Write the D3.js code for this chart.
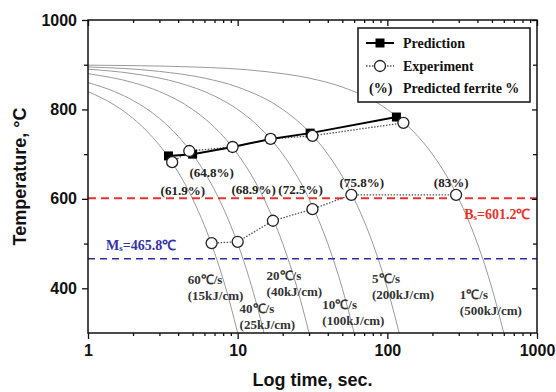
<!DOCTYPE html>
<html><head><meta charset="utf-8">
<script src="https://cdn.jsdelivr.net/npm/d3@7"></script>
<style>
html,body{margin:0;padding:0;background:#fff;}
svg{display:block;}
.serif{font-family:"Liberation Serif","Times New Roman",serif;font-weight:bold;}
.sans{font-family:"Liberation Sans",Arial,sans-serif;font-weight:bold;}
</style></head>
<body><svg id="chart" width="556" height="392"></svg>
<script>
// ---------- data ----------
const xTickValues = [1, 10, 100, 1000];
const yTickValues = [400, 600, 800, 1000];
const yMinorValues = [500, 700, 900];

// cooling curves [time s, temperature °C]
const curve60 = [[1,840],[1.5,810],[2,780],[2.5,750],[3,720],[4,660],[5,600],[6,540],[7,480],[8,420],[9,360],[10,300]];
const curve40 = [[1,860],[1.5,840],[2,820],[3,780],[4,740],[5,700],[6,660],[8,580],[10,500],[12,420],[13.5,360],[15,300]];
const curve20 = [[1,880],[2,860],[3,840],[5,800],[7,760],[10,700],[15,600],[20,500],[25,400],[30,300]];
const curve10 = [[1,890],[2,880],[4,860],[7,830],[10,800],[15,750],[20,700],[30,600],[40,500],[50,400],[60,300]];
const curve5  = [[1,895],[3,885],[6,870],[10,850],[20,800],[30,750],[40,700],[60,600],[80,500],[100,400],[120,300]];
const curve1  = [[1,899],[5,895],[15,885],[30,870],[50,850],[100,800],[150,750],[200,700],[300,600],[400,500],[500,400],[600,300]];

const predTime = [3.45, 5.0, 9.25, 16.6, 30.5, 115];
const predTemp = [696, 700, 716, 734, 747, 783];

const expTime = [3.65, 4.75, 9.25, 16.6, 31.6, 128];
const expTemp = [682, 707, 716, 734, 741, 770];

const lowTime = [6.7, 10, 17.2, 31.6, 57.5, 288];
const lowTemp = [501, 504, 551, 577, 609, 609];

const ferriteLabels = ["(61.9%)", "(64.8%)", "(68.9%)", "(72.5%)", "(75.8%)", "(83%)"];
const ferriteTime = [4.3, 6.7, 12.8, 26.3, 67.5, 267];
const ferriteTemp = [618, 658, 620, 620, 636, 636];

const rateLabels = ["60\u2103/s", "40\u2103/s", "20\u2103/s", "10\u2103/s", "5\u2103/s", "1\u2103/s"];
const energyLabels = ["(15kJ/cm)", "(25kJ/cm)", "(40kJ/cm)", "(100kJ/cm)", "(200kJ/cm)", "(500kJ/cm)"];
const rateTime = [4.64, 10.3, 15.6, 36.8, 79, 305];
const rateTemp = [419, 354, 428, 363, 421, 387];

const bsValue = 601.2, msValue = 465.8;
const legendLabels = ["Prediction", "Experiment", "Predicted ferrite %"];

// ---------- chart ----------
const svg = d3.select("#chart");
const L = 88, R = 537, T = 20, B = 333;
const x = d3.scaleLog().domain([1, 1000]).range([L, R]);
const y = d3.scaleLinear().domain([300, 1000]).range([B, T]);

svg.append("defs").append("clipPath").attr("id","clip")
  .append("rect").attr("x",L).attr("y",T).attr("width",R-L).attr("height",B-T);

const plot = svg.append("g").attr("clip-path","url(#clip)");

const line = d3.line().x(d => x(d[0])).y(d => y(d[1])).curve(d3.curveMonotoneX);
[curve60, curve40, curve20, curve10, curve5, curve1].forEach(c => {
  plot.append("path").attr("d", line(c)).attr("fill","none")
    .attr("stroke","#9a9a9a").attr("stroke-width",1);
});

// Bs / Ms lines
plot.append("line").attr("x1",L).attr("x2",R).attr("y1",y(bsValue)).attr("y2",y(bsValue))
  .attr("stroke","#e8322e").attr("stroke-width",2).attr("stroke-dasharray","8,5");
plot.append("line").attr("x1",L).attr("x2",R).attr("y1",y(msValue)).attr("y2",y(msValue))
  .attr("stroke","#2e2e9c").attr("stroke-width",1.5).attr("stroke-dasharray","7,5");

const lin = d3.line().x(d => x(d[0])).y(d => y(d[1]));
const pred = predTime.map((t,i) => [t, predTemp[i]]);
const exp = expTime.map((t,i) => [t, expTemp[i]]);
const low = lowTime.map((t,i) => [t, lowTemp[i]]);

plot.append("path").attr("d", lin(exp)).attr("fill","none").attr("stroke","#555")
  .attr("stroke-width",1.3).attr("stroke-dasharray","1.5,1.5");
plot.append("path").attr("d", lin(low)).attr("fill","none").attr("stroke","#555")
  .attr("stroke-width",1.3).attr("stroke-dasharray","1.5,1.5");
plot.append("path").attr("d", lin(pred)).attr("fill","none").attr("stroke","#000")
  .attr("stroke-width",2);

svg.append("g").selectAll("rect").data(pred).join("rect")
  .attr("x", d => x(d[0]) - 4.5).attr("y", d => y(d[1]) - 4.5)
  .attr("width",9).attr("height",9).attr("fill","#000");
svg.append("g").selectAll("circle").data(exp.concat(low)).join("circle")
  .attr("cx", d => x(d[0])).attr("cy", d => y(d[1])).attr("r",5.5)
  .attr("fill","#fff").attr("stroke","#222").attr("stroke-width",1.3);

// ferrite % labels
svg.append("g").selectAll("text").data(ferriteLabels).join("text")
  .attr("class","serif").attr("font-size",13).attr("fill","#222")
  .attr("text-anchor","middle").attr("dominant-baseline","central")
  .attr("x", (d,i) => x(ferriteTime[i])).attr("y", (d,i) => y(ferriteTemp[i]))
  .text(d => d);

// rate labels
const rg = svg.append("g").attr("class","serif").attr("font-size",13).attr("fill","#333");
rateLabels.forEach((lab,i) => {
  rg.append("text").attr("x", x(rateTime[i])).attr("y", y(rateTemp[i]))
    .attr("dominant-baseline","central").text(lab);
  rg.append("text").attr("x", x(rateTime[i])).attr("y", y(rateTemp[i]) + 16)
    .attr("dominant-baseline","central").text(energyLabels[i]);
});

// Bs / Ms labels
const bsT = svg.append("text").attr("class","serif").attr("font-size",14).attr("fill","#e8322e")
  .attr("x", x(326)).attr("y", y(566)).attr("dominant-baseline","central");
bsT.append("tspan").text("B");
bsT.append("tspan").attr("font-size",9).attr("dy",3).text("s");
bsT.append("tspan").attr("dy",-3).text("=" + bsValue + "\u2103");

const msT = svg.append("text").attr("class","serif").attr("font-size",14).attr("fill","#3333aa")
  .attr("x", x(1.318)).attr("y", y(497)).attr("dominant-baseline","central");
msT.append("tspan").text("M");
msT.append("tspan").attr("font-size",9).attr("dy",3).text("s");
msT.append("tspan").attr("dy",-3).text("=" + msValue + "\u2103");

// axes
const xMinor = [];
[1,10,100].forEach(b => { for (let k=2;k<=9;k++) xMinor.push(b*k); });

const axisG = svg.append("g").attr("class","sans");
const fmt = d3.format("d");
axisG.append("g").attr("transform",`translate(0,${B})`)
  .call(d3.axisBottom(x).tickValues(xTickValues).tickFormat(fmt).tickSize(6).tickPadding(6));
axisG.append("g").attr("transform",`translate(0,${B})`)
  .call(d3.axisBottom(x).tickValues(xMinor).tickFormat("").tickSize(3));
axisG.append("g").attr("transform",`translate(0,${T})`)
  .call(d3.axisBottom(x).tickValues(xTickValues).tickFormat("").tickSize(6));
axisG.append("g").attr("transform",`translate(0,${T})`)
  .call(d3.axisBottom(x).tickValues(xMinor).tickFormat("").tickSize(3));
axisG.append("g").attr("transform",`translate(${L},0)`)
  .call(d3.axisLeft(y).tickValues(yTickValues).tickFormat(fmt).tickSize(6).tickPadding(5));
axisG.append("g").attr("transform",`translate(${L},0)`)
  .call(d3.axisLeft(y).tickValues(yMinorValues).tickFormat("").tickSize(4));
axisG.append("g").attr("transform",`translate(${R},0)`)
  .call(d3.axisLeft(y).tickValues(yTickValues).tickFormat("").tickSize(5));
axisG.append("g").attr("transform",`translate(${R},0)`)
  .call(d3.axisLeft(y).tickValues(yMinorValues).tickFormat("").tickSize(4));
axisG.selectAll(".domain").remove();
axisG.selectAll(".tick line").attr("stroke","#111").attr("stroke-width",1.3);
axisG.selectAll(".tick text").attr("font-size",16).attr("fill","#111")
  .attr("font-family","'Liberation Sans',Arial,sans-serif").attr("font-weight","bold");

svg.append("rect").attr("x",L).attr("y",T).attr("width",R-L).attr("height",B-T)
  .attr("fill","none").attr("stroke","#111").attr("stroke-width",1.5);

// axis titles
svg.append("text").attr("class","sans").attr("font-size",18).attr("fill","#111")
  .attr("text-anchor","middle").attr("x",(L+R)/2).attr("y",386).text("Log time, sec.");
svg.append("text").attr("class","sans").attr("font-size",18).attr("fill","#111")
  .attr("text-anchor","middle").attr("transform",`translate(26,${(T+B)/2}) rotate(-90)`)
  .text("Temperature, \u00B0C");

// legend
const lg = svg.append("g");
lg.append("rect").attr("x",358).attr("y",28).attr("width",172).attr("height",74)
  .attr("fill","#fff").attr("stroke","#111").attr("stroke-width",1.5);
const ly = [43, 66, 88];
lg.append("line").attr("x1",366).attr("x2",394).attr("y1",ly[0]).attr("y2",ly[0])
  .attr("stroke","#000").attr("stroke-width",2);
lg.append("rect").attr("x",375.5).attr("y",ly[0]-4.5).attr("width",9).attr("height",9).attr("fill","#000");
lg.append("line").attr("x1",366).attr("x2",394).attr("y1",ly[1]).attr("y2",ly[1])
  .attr("stroke","#555").attr("stroke-width",1.3).attr("stroke-dasharray","1.5,1.5");
lg.append("circle").attr("cx",380).attr("cy",ly[1]).attr("r",5.5)
  .attr("fill","#fff").attr("stroke","#222").attr("stroke-width",1.3);
lg.append("text").attr("class","serif").attr("font-size",14).attr("fill","#111")
  .attr("x",369).attr("y",ly[2]).attr("dominant-baseline","central").text("(%)");
lg.selectAll("text.lab").data(legendLabels).join("text").attr("class","serif lab")
  .attr("font-size",14).attr("fill","#111").attr("x",403).attr("y",(d,i)=>ly[i])
  .attr("dominant-baseline","central").text(d => d);
</script>
</body></html>
